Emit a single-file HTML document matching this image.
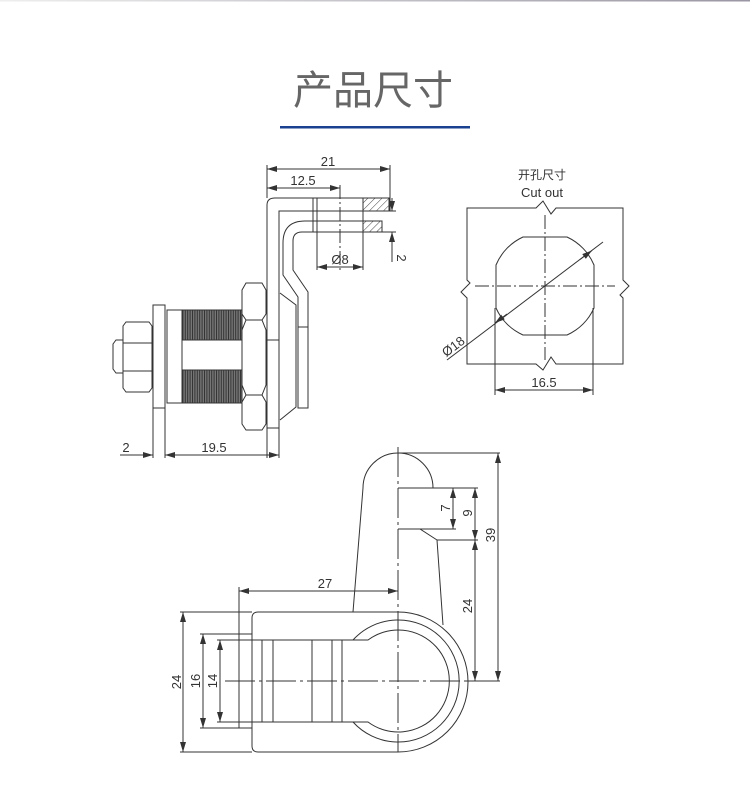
<!DOCTYPE html>
<html><head><meta charset="utf-8"><style>
html,body{margin:0;padding:0;background:#fff;width:750px;height:790px;overflow:hidden}
svg{display:block}
text{font-family:"Liberation Sans","Noto Sans CJK SC",sans-serif;fill:#333}
</style></head><body>
<svg width="750" height="790" viewBox="0 0 750 790" xmlns="http://www.w3.org/2000/svg">
<defs>
<linearGradient id="tg" x1="0" x2="1"><stop offset="0" stop-color="#eee"/><stop offset="1" stop-color="#9a96a3"/></linearGradient>
<marker id="a" viewBox="0 0 10 6" refX="10" refY="3" markerWidth="10" markerHeight="6" orient="auto-start-reverse" markerUnits="userSpaceOnUse"><path d="M0,0L10,3L0,6z" fill="#333"/></marker>
<pattern id="th" width="2.4" height="4" patternUnits="userSpaceOnUse"><rect width="2.4" height="4" fill="#777"/><rect width="1" height="4" fill="#333"/></pattern>
<pattern id="hat" width="5" height="5" patternUnits="userSpaceOnUse" patternTransform="rotate(45)"><line x1="0" y1="0" x2="0" y2="5" stroke="#444" stroke-width="1"/></pattern>
</defs>
<rect x="0" y="0" width="750" height="1.5" fill="url(#tg)"/>
<text x="373" y="104" font-size="40" text-anchor="middle" style="fill:#666" font-family="Noto Sans CJK SC">产品尺寸</text>
<rect x="280" y="126" width="190" height="2.5" fill="#1a418f"/>

<g fill="none" stroke="#333" stroke-width="1">
<!-- side view -->
<path d="M267,458V205Q267,198 275,198H390V211H279V428H267"/>
<line x1="279" y1="340" x2="267" y2="340"/>
<path d="M382,221H305Q283,221 283,243V275L298,297V327"/>
<path d="M382,232H302Q293,232 293,241V270L308,292V327"/>
<path d="M280,293L296,305V407L280,420"/>
<rect x="298" y="327" width="10" height="81"/>
<line x1="313" y1="198" x2="313" y2="232"/><line x1="317" y1="198" x2="317" y2="270"/>
<line x1="363" y1="198" x2="363" y2="270"/>
<rect x="363" y="198" width="26" height="13" fill="url(#hat)"/>
<rect x="363" y="221" width="19" height="11" fill="url(#hat)"/>
<!-- hex nut -->
<path d="M246,283H262L266,290V314L262,320H246L242,314V290Z"/>
<path d="M246,320H262L266,330V385L262,395H246L242,385V330Z"/>
<path d="M246,395H262L266,402V424L262,430H246L242,424V402Z"/>
<!-- threaded body -->
<rect x="167" y="310" width="75" height="93"/>
<line x1="182" y1="310" x2="182" y2="403"/>
<rect x="182" y="310" width="60" height="30" fill="url(#th)"/>
<rect x="182" y="370" width="60" height="33" fill="url(#th)"/>
<rect x="153" y="305" width="12" height="103"/>
<line x1="153" y1="408" x2="153" y2="458"/><line x1="165" y1="408" x2="165" y2="458"/>
<path d="M126,322H149L152,326V388L149,392H126L123,388V326Z"/>
<line x1="123" y1="343" x2="152" y2="343"/><line x1="123" y1="371" x2="152" y2="371"/>
<path d="M123,340H116L113,344V369L116,373H123"/>
<!-- side dims -->
<line x1="267" y1="165" x2="267" y2="198"/><line x1="390" y1="165" x2="390" y2="198"/>
<line x1="267" y1="169" x2="390" y2="169" marker-start="url(#a)" marker-end="url(#a)"/>
<line x1="267" y1="188" x2="340" y2="188" marker-start="url(#a)" marker-end="url(#a)"/>
<line x1="340" y1="185" x2="340" y2="270" stroke-dasharray="14,3,2,3"/>
<line x1="317" y1="267" x2="363" y2="267" marker-start="url(#a)" marker-end="url(#a)"/>
<line x1="392" y1="198" x2="392" y2="211" marker-end="url(#a)"/>
<line x1="392" y1="232" x2="392" y2="262" marker-start="url(#a)"/>
<line x1="382" y1="232" x2="396" y2="232"/><line x1="390" y1="211" x2="396" y2="211"/>
<line x1="120" y1="455" x2="153" y2="455" marker-end="url(#a)"/>
<line x1="165" y1="455" x2="279" y2="455" marker-start="url(#a)" marker-end="url(#a)"/>
<line x1="279" y1="428" x2="279" y2="458"/>

<!-- cutout -->
<path d="M467,208H536L543,201L551,214L556,208H623V280L629,286L620,295L623,298V364H556L551,357L543,370L536,364H467V298L461,292L470,283L467,280Z"/>
<path d="M523,237H567A53.5,53.5 0 0 1 594,265V308A53.5,53.5 0 0 1 567,335H523A53.5,53.5 0 0 1 496,308V265A53.5,53.5 0 0 1 523,237Z"/>
<line x1="475" y1="286" x2="615" y2="286" stroke-dasharray="14,3,2,3"/>
<line x1="545" y1="215" x2="545" y2="360" stroke-dasharray="14,3,2,3"/>
<line x1="447" y1="360" x2="603" y2="242"/>
<line x1="580" y1="259.5" x2="592" y2="250.5" marker-end="url(#a)"/>
<line x1="507" y1="314" x2="495" y2="323" marker-end="url(#a)"/>
<line x1="495" y1="308" x2="495" y2="395"/><line x1="593" y1="308" x2="593" y2="395"/>
<line x1="495" y1="390" x2="593" y2="390" marker-start="url(#a)" marker-end="url(#a)"/>

<!-- bottom view -->
<path d="M353,612L363,488A35,35 0 0 1 433,488H398"/>
<path d="M398,529H420L437,540L443,625"/>
<path d="M258,612H398A69,69 0 0 1 398,752H258Q252,752 252,746V618Q252,612 258,612Z"/>
<path d="M262,640H353A61,61 0 1 1 353,722H262Z"/>
<path d="M353,640H368A51,51 0 1 1 368,722H353"/>
<line x1="273" y1="640" x2="273" y2="722"/><line x1="312" y1="640" x2="312" y2="722"/>
<line x1="332" y1="640" x2="332" y2="722"/><line x1="342" y1="640" x2="342" y2="722"/>
<rect x="239" y="634" width="13" height="94"/>
<line x1="398" y1="447" x2="398" y2="752" stroke-dasharray="30,4,3,4"/>
<line x1="225" y1="681" x2="470" y2="681" stroke-dasharray="30,4,3,4"/>
<!-- bottom dims -->
<line x1="239" y1="587" x2="239" y2="634"/>
<line x1="239" y1="591" x2="398" y2="591" marker-start="url(#a)" marker-end="url(#a)"/>
<line x1="180" y1="612" x2="252" y2="612"/><line x1="180" y1="752" x2="252" y2="752"/>
<line x1="183" y1="612" x2="183" y2="752" marker-start="url(#a)" marker-end="url(#a)"/>
<line x1="200" y1="634" x2="239" y2="634"/><line x1="200" y1="728" x2="239" y2="728"/>
<line x1="203" y1="634" x2="203" y2="728" marker-start="url(#a)" marker-end="url(#a)"/>
<line x1="217" y1="640" x2="262" y2="640"/><line x1="217" y1="722" x2="262" y2="722"/>
<line x1="220" y1="640" x2="220" y2="722" marker-start="url(#a)" marker-end="url(#a)"/>
<line x1="398" y1="453" x2="500" y2="453"/><line x1="433" y1="488" x2="478" y2="488"/>
<line x1="420" y1="529" x2="456" y2="529"/><line x1="437" y1="540" x2="478" y2="540"/>
<line x1="466" y1="681" x2="500" y2="681"/>
<line x1="453" y1="488" x2="453" y2="529" marker-start="url(#a)" marker-end="url(#a)"/>
<line x1="475" y1="488" x2="475" y2="540" marker-start="url(#a)" marker-end="url(#a)"/>
<line x1="475" y1="540" x2="475" y2="681" marker-start="url(#a)" marker-end="url(#a)"/>
<line x1="498" y1="453" x2="498" y2="681" marker-start="url(#a)" marker-end="url(#a)"/>
</g>

<g font-size="13">
<text x="328" y="166" text-anchor="middle">21</text>
<text x="303" y="185" text-anchor="middle">12.5</text>
<text x="340" y="264" text-anchor="middle">Ø8</text>
<text x="397" y="258" text-anchor="middle" transform="rotate(90 397 258)">2</text>
<text x="126" y="452" text-anchor="middle">2</text>
<text x="214" y="452" text-anchor="middle">19.5</text>
<text x="542" y="179" text-anchor="middle" font-size="12">开孔尺寸</text>
<text x="542" y="197" text-anchor="middle">Cut out</text>
<text x="456" y="350" text-anchor="middle" transform="rotate(-37 456 350)">Ø18</text>
<text x="544" y="387" text-anchor="middle">16.5</text>
<text x="325" y="588" text-anchor="middle">27</text>
<text x="181" y="682" text-anchor="middle" transform="rotate(-90 181 682)">24</text>
<text x="200" y="681" text-anchor="middle" transform="rotate(-90 200 681)">16</text>
<text x="217" y="681" text-anchor="middle" transform="rotate(-90 217 681)">14</text>
<text x="450" y="508" text-anchor="middle" transform="rotate(-90 450 508)">7</text>
<text x="472" y="513" text-anchor="middle" transform="rotate(-90 472 513)">9</text>
<text x="472" y="606" text-anchor="middle" transform="rotate(-90 472 606)">24</text>
<text x="495" y="535" text-anchor="middle" transform="rotate(-90 495 535)">39</text>
</g>
</svg>
</body></html>
